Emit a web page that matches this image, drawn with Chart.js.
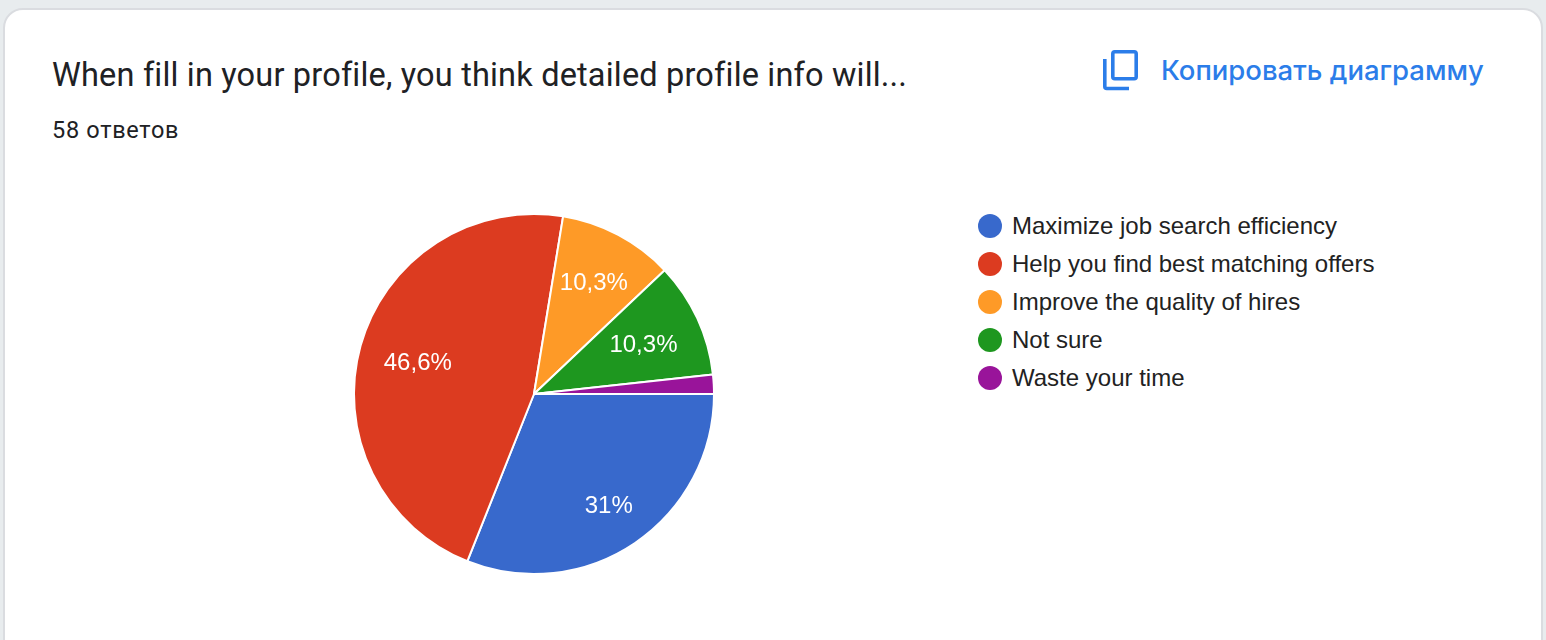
<!DOCTYPE html>
<html>
<head>
<meta charset="utf-8">
<script src="https://cdn.jsdelivr.net/npm/chart.js@4"></script>
<style>
  html, body { margin: 0; padding: 0; width: 1546px; height: 640px; overflow: hidden; background: #e8ecee; }
  #card { position: absolute; left: 3px; top: 8px; width: 1536px; height: 680px; background: #fff; border: 2px solid #dadce0; border-radius: 20px; }
  .txt { position: absolute; white-space: nowrap; color: #202124; }
  #title { left: 52px; top: 55px; font: 400 32.5px/40px Roboto, sans-serif; letter-spacing: 0.18px; }
  #answers { left: 52px; top: 116px; font: 400 23.5px/28px Roboto, sans-serif; letter-spacing: 0.7px; }
  #copy { left: 1161px; top: 52px; font: 500 27.5px/36px Inter, sans-serif; color: #2b7de9; }
  #icon { position: absolute; left: 1100px; top: 47px; }
  #wrap { position: absolute; left: 344px; top: 204px; width: 380px; height: 380px; }
  #legend { position: absolute; left: 978px; top: 207px; }
  .row { height: 38px; display: flex; align-items: center; font: 400 24px/38px "Liberation Sans", Arial, sans-serif; color: #222; }
  .dot { width: 24px; height: 24px; border-radius: 50%; margin-right: 10px; }
</style>
</head>
<body>
<div id="card"></div>
<div class="txt" id="title">When fill in your profile, you think detailed profile info will...</div>
<div class="txt" id="answers">58 ответов</div>
<svg id="icon" width="40" height="46" viewBox="0 0 40 46" fill="none" stroke="#2b7de9" stroke-width="3.6">
  <rect x="12.8" y="4.8" width="23.4" height="27" rx="2"/>
  <path d="M4.8 12v27.5a2 2 0 0 0 2 2H29"/>
</svg>
<div class="txt" id="copy">Копировать диаграмму</div>
<div id="wrap"><canvas id="pie"></canvas></div>
<div id="legend"></div>

<script>
var categories = ["Maximize job search efficiency", "Help you find best matching offers", "Improve the quality of hires", "Not sure", "Waste your time"];
var answers = [18, 27, 6, 6, 1];
var percentLabels = ["31%", "46,6%", "10,3%", "10,3%", ""];
var sliceColors = ["#3869cc", "#dc3b20", "#fe9a27", "#1e971f", "#99149a"];
// how far out each percent text sits, as a share of the radius
var labelDistance = [0.74, 0.67, 0.71, 0.67, 0.7];

// legend is plain html next to the canvas
var legendBox = document.getElementById("legend");
categories.forEach(function (name, i) {
  var row = document.createElement("div");
  row.className = "row";
  var dot = document.createElement("div");
  dot.className = "dot";
  dot.style.background = sliceColors[i];
  row.appendChild(dot);
  row.appendChild(document.createTextNode(name));
  legendBox.appendChild(row);
});

// writes the percent text on each slice
var percentPlugin = {
  id: "percentText",
  afterDatasetsDraw: function (chart) {
    var ctx = chart.ctx;
    var arcs = chart.getDatasetMeta(0).data;
    ctx.save();
    ctx.fillStyle = "#fff";
    ctx.font = '24px "Liberation Sans", Arial, sans-serif';
    ctx.textAlign = "center";
    ctx.textBaseline = "middle";
    arcs.forEach(function (arc, i) {
      var mid = (arc.startAngle + arc.endAngle) / 2;
      var r = arc.outerRadius * labelDistance[i];
      ctx.fillText(percentLabels[i], arc.x + Math.cos(mid) * r, arc.y + Math.sin(mid) * r + 2);
    });
    ctx.restore();
  }
};

new Chart(document.getElementById("pie"), {
  type: "pie",
  data: {
    labels: categories,
    datasets: [{
      data: answers,
      backgroundColor: sliceColors,
      borderColor: "#fff",
      borderWidth: 2
    }]
  },
  options: {
    responsive: true,
    maintainAspectRatio: false,
    animation: false,
    rotation: 90,
    layout: { padding: 9 },
    plugins: { legend: { display: false }, tooltip: { enabled: false } }
  },
  plugins: [percentPlugin]
});
</script>
</body>
</html>
